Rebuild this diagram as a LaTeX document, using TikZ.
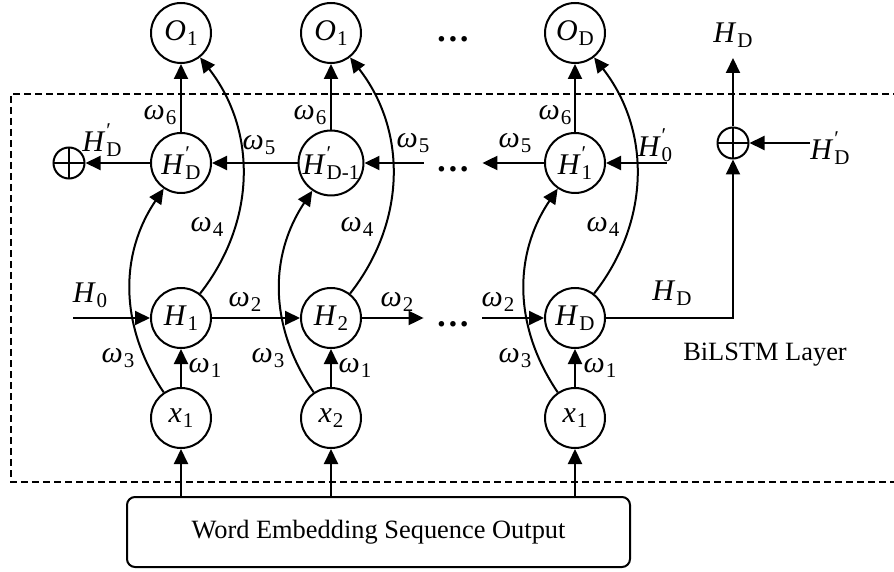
\documentclass[tikz,border=0pt]{standalone}
\usepackage{fontspec}
\setmainfont{Liberation Serif}
\usetikzlibrary{
    arrows.meta,
    positioning,
    calc,
}
% subscripted and primed symbols
\newcommand{\symsz}{\fontsize{15}{16}\selectfont}
\newcommand{\subsz}{\fontsize{10.5}{11}\selectfont}
\newcommand{\vsub}[2]{{\symsz\textit{#1}\kern0.03em\raisebox{-0.35ex}{\subsz #2}}}
\newcommand{\vpr}[2]{{\symsz\textit{#1}\kern0.03em\rlap{\raisebox{1.0ex}{\subsz ′}}\raisebox{-0.35ex}{\subsz #2}}}
\newcommand{\skipdots}{\raisebox{-5pt}{···}}

\begin{document}
\begin{tikzpicture}[
    x=0.5pt, y=-0.5pt,
    font=\fontsize{13.2}{16}\selectfont,
    neuron/.style={circle, draw, line width=1pt, minimum size=30pt, inner sep=0pt},
    addnode/.style={circle, draw, line width=1pt, minimum size=15.5pt, inner sep=0pt,
        path picture={\draw[line width=1pt] (path picture bounding box.north) -- (path picture bounding box.south)
            (path picture bounding box.west) -- (path picture bounding box.east);}},
    dots/.style={inner xsep=6pt, inner ysep=0pt, text height=8pt, text depth=0pt,
        font=\fontsize{17}{17}\selectfont\bfseries},
    wt/.style={inner sep=0pt},
    link/.style={line width=1pt, -{Triangle[length=7.5pt,width=7pt]}}
]
    \useasboundingbox (0,0) rectangle (894,572);

    % BiLSTM layer frame (open to the right)
    \draw[line width=1pt, dash pattern=on 3.5pt off 2pt] (900,94) -| (11,482) -- (900,482);
    \node[wt] (layer) at (765,355) {BiLSTM Layer};

    % output units
    \node[neuron] (o1) at (181,33) {\vsub{O}{1}};
    \node[neuron] (o2) at (331,33) {\vsub{O}{1}};
    \node[neuron] (oD) at (575,33) {\vsub{O}{D}};
    \node[dots] (dO) at (453,33) {\skipdots};

    % backward hidden units
    \node[neuron] (hp1) at (181,163) {\vpr{H}{D}};
    \node[neuron] (hp2) at (331,163) {\vpr{H}{D-1}};
    \node[neuron] (hpD) at (575,163) {\vpr{H}{1}};
    \node[dots] (dP) at (453,163) {\skipdots};

    % forward hidden units
    \node[neuron] (h1) at (181,318) {\vsub{H}{1}};
    \node[neuron] (h2) at (331,318) {\vsub{H}{2}};
    \node[neuron] (hD) at (575,318) {\vsub{H}{D}};
    \node[dots] (dH) at (453,318) {\skipdots};

    % inputs
    \node[neuron] (x1) at (181,418) {\vsub{x}{1}};
    \node[neuron] (x2) at (331,418) {\vsub{x}{2}};
    \node[neuron] (xD) at (575,418) {\vsub{x}{1}};

    \node[draw, line width=1pt, rounded corners=4pt, minimum width=251.5pt, minimum height=35pt]
        (emb) at (378.5,532) {Word Embedding Sequence Output};

    % merge points
    \node[addnode] (addL) at (69,163) {};
    \node[addnode] (addR) at (733,143) {};
    \coordinate (h0) at (73,318);
    \coordinate (hp0) at (667,163);
    \coordinate (hpin) at (810,143);
    \coordinate (hout) at (733,58);

    % embedding -> inputs
    \draw[link] (emb.north -| x1) -- (x1);
    \draw[link] (emb.north -| x2) -- (x2);
    \draw[link] (emb.north -| xD) -- (xD);

    % inputs -> hidden
    \draw[link] (x1) -- (h1);
    \draw[link] (x2) -- (h2);
    \draw[link] (xD) -- (hD);
    \draw[link] (x1) to[bend left=34] (hp1);
    \draw[link] (x2) to[bend left=34] (hp2);
    \draw[link] (xD) to[bend left=34] (hpD);

    % forward chain
    \draw[link] (h0) -- (h1);
    \draw[link] (h1) -- (h2);
    \draw[link] (h2) -- (dH);
    \draw[link] (dH) -- (hD);

    % backward chain
    \draw[link] (hp0) -- (hpD);
    \draw[link] (hpD) -- (dP);
    \draw[link] (dP) -- (hp2);
    \draw[link] (hp2) -- (hp1);
    \draw[link] (hp1) -- (addL);

    % hidden -> outputs
    \draw[link] (hp1) -- (o1);
    \draw[link] (hp2) -- (o2);
    \draw[link] (hpD) -- (oD);
    \draw[link] (h1) to[bend right=38] (o1);
    \draw[link] (h2) to[bend right=38] (o2);
    \draw[link] (hD) to[bend right=38] (oD);

    % final states
    \draw[link] (hD) -| (addR);
    \draw[link] (hpin) -- (addR);
    \draw[link] (addR) -- (hout);

    % weights
    \foreach \c in {160,310,555} \node[wt] at (\c,115) {\vsub{ω}{6}};
    \foreach \c/\r in {259/145,413/143,515/143} \node[wt] at (\c,\r) {\vsub{ω}{5}};
    \foreach \c in {207,357,603} \node[wt] at (\c,227) {\vsub{ω}{4}};
    \foreach \c in {245,397,498} \node[wt] at (\c,302) {\vsub{ω}{2}};
    \foreach \c in {118,268,515} \node[wt] at (\c,358) {\vsub{ω}{3}};
    \foreach \c in {205,355,600} \node[wt] at (\c,368) {\vsub{ω}{1}};

    % state labels
    \node[wt] at (102,140) {\vpr{H}{D}};
    \node[wt] at (90,295) {\vsub{H}{0}};
    \node[wt] at (655,145) {\vpr{H}{0}};
    \node[wt] at (733,35) {\vsub{H}{D}};
    \node[wt] at (830,148) {\vpr{H}{D}};
    \node[wt] at (672,293) {\vsub{H}{D}};
\end{tikzpicture}
\end{document}
